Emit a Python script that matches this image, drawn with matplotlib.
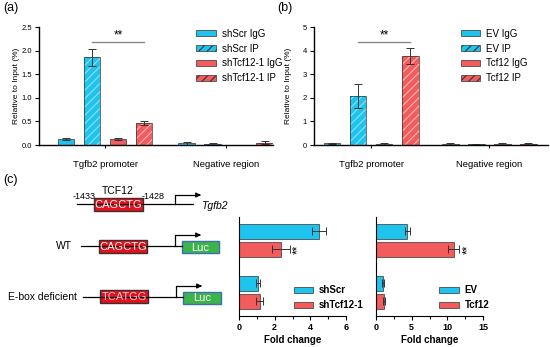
import matplotlib
matplotlib.use("Agg")
import matplotlib.pyplot as plt
from matplotlib.patches import Rectangle
from matplotlib.ticker import MultipleLocator

plt.rcParams["font.family"] = ["Liberation Sans", "DejaVu Sans"]
plt.rcParams["hatch.linewidth"] = 0.8

CYAN = "#1ec4ee"
RED = "#f25c5c"
EDGE = "#333333"
HATCH_COL = {CYAN: "#8fe0f5", RED: "#ffb4b4"}

# ---- data ----
chip_groups = ["Tgfb2 promoter", "Negative region"]

a_labels = ["shScr IgG", "shScr IP", "shTcf12-1 IgG", "shTcf12-1 IP"]
a_vals = [[0.12, 1.86, 0.12, 0.46], [0.04, 0.02, 0.0, 0.05]]
a_errs = [[0.02, 0.18, 0.02, 0.04], [0.03, 0.02, 0.0, 0.03]]

b_labels = ["EV IgG", "EV IP", "Tcf12 IgG", "Tcf12 IP"]
b_vals = [[0.08, 2.08, 0.05, 3.77], [0.04, 0.03, 0.05, 0.06]]
b_errs = [[0.02, 0.50, 0.05, 0.32], [0.03, 0.02, 0.05, 0.04]]

luc_groups = ["WT", "E-box deficient"]
c1_labels = ["shScr", "shTcf12-1"]
c1_vals = [[4.5, 2.35], [1.05, 1.15]]
c1_errs = [[0.4, 0.5], [0.1, 0.2]]

c2_labels = ["EV", "Tcf12"]
c2_vals = [[4.4, 10.9], [1.0, 1.1]]
c2_errs = [[0.4, 0.8], [0.1, 0.1]]

W, H = 550, 347
fig = plt.figure(figsize=(5.5, 3.47), dpi=100)


def px_axes(x0, y0, x1, y1):
    return fig.add_axes([x0 / W, 1 - y1 / H, (x1 - x0) / W, (y1 - y0) / H])


def chip_panel(ax, labels, vals, errs, gstep, xlim, ymax, ystep, fmt, sig_y, legx, labx):
    colors = [CYAN, CYAN, RED, RED]
    hatches = [None, "////", None, "////"]
    for g in range(len(vals)):
        for i in range(4):
            x = g * gstep + i
            if hatches[i]:
                # hatch layer in a lighter tint, then the outline on top
                ax.bar(x, vals[g][i], width=0.65, color=colors[i],
                       edgecolor=HATCH_COL[colors[i]], linewidth=0, hatch=hatches[i])
                ax.bar(x, vals[g][i], width=0.65, fill=False, edgecolor=EDGE,
                       linewidth=0.5)
            else:
                ax.bar(x, vals[g][i], width=0.65, color=colors[i], edgecolor=EDGE,
                       linewidth=0.5)
            ax.errorbar(x, vals[g][i], yerr=errs[g][i], color="#333333",
                        capsize=3, elinewidth=0.7, capthick=0.7)
    # legend proxies
    for i in range(4):
        ax.bar(0, 0, width=0, color=colors[i], edgecolor=EDGE, linewidth=0.5,
               hatch=hatches[i], label=labels[i])
    ax.set_xlim(*xlim)
    ax.set_ylim(0, ymax)
    ax.yaxis.set_major_locator(MultipleLocator(ystep))
    ax.yaxis.set_major_formatter(fmt)
    ax.set_xticks([1.5, gstep + 1.5])
    ax.set_xticklabels(chip_groups, fontsize=6.8)
    ax.tick_params(axis="y", labelsize=5.5, length=3, width=0.8, pad=2)
    ax.tick_params(axis="x", length=2.5, width=0.8, pad=8)
    for s in ["top", "right"]:
        ax.spines[s].set_visible(False)
    for s in ["left", "bottom"]:
        ax.spines[s].set_linewidth(1.0)
    ax.set_ylabel("Relative to Input (%)", fontsize=6)
    ax.yaxis.set_label_coords(labx, 0.5)
    ax.plot([1, 3], [sig_y, sig_y], color="#888888", lw=1)
    ax.text(2, sig_y * 1.005, "**", ha="center", va="bottom", fontsize=8.5)
    ax.legend(loc="upper left", bbox_to_anchor=(legx, 1.06), frameon=False,
              fontsize=7, handlelength=2.0, handleheight=0.55,
              labelspacing=0.5, handletextpad=0.6)


ax_a = px_axes(39, 27, 273, 145)
chip_panel(ax_a, a_labels, a_vals, a_errs, 4.65, (-1.04, 7.96), 2.5, 0.5,
           "{x:.1f}", 2.18, 0.635, -0.08)

ax_b = px_axes(314, 27, 548, 145)
chip_panel(ax_b, b_labels, b_vals, b_errs, 4.54, (-0.69, 8.3), 5, 1,
           "{x:.0f}", 4.35, 0.59, -0.095)


def luc_panel(ax, labels, vals, errs, xmax, minor, sig_dx, legx):
    colors = [CYAN, RED]
    gstep = 2.81
    for g in range(len(vals)):
        for i in range(2):
            y = 0.76 + g * gstep + i * 0.97
            ax.barh(y, vals[g][i], height=0.81, color=colors[i], edgecolor=EDGE,
                    linewidth=0.5, label=labels[i] if g == 0 else None)
            ax.errorbar(vals[g][i], y, xerr=errs[g][i], color="#333333",
                        capsize=3, elinewidth=0.7, capthick=0.7)
    ax.text(vals[0][1] + errs[0][1] + sig_dx, 0.76 + 0.97, "**", rotation=90,
            ha="left", va="center", fontsize=8.5)
    ax.set_ylim(5.35, 0)
    ax.set_xlim(0, xmax)
    ax.set_yticks([])
    ax.xaxis.set_minor_locator(MultipleLocator(minor))
    ax.tick_params(axis="x", labelsize=6.5, length=3, width=0.8, pad=2)
    ax.tick_params(axis="x", which="minor", length=2, width=0.8)
    for t in ax.get_xticklabels():
        t.set_fontweight("bold")
    for s in ["top", "right"]:
        ax.spines[s].set_visible(False)
    ax.set_xlabel("Fold change", fontsize=7, fontweight="bold", labelpad=2)
    ax.legend(loc="lower left", bbox_to_anchor=(legx, -0.03), frameon=False,
              prop={"size": 7, "weight": "bold"}, handlelength=2.0,
              handleheight=0.55, labelspacing=0.5, handletextpad=0.6)


ax_c1 = px_axes(239, 217, 346, 316)
luc_panel(ax_c1, c1_labels, c1_vals, c1_errs, 6, 1, 0.12, 0.43)

ax_c2 = px_axes(376, 217, 483, 316)
luc_panel(ax_c2, c2_labels, c2_vals, c2_errs, 15, 2.5, 0.45, 0.51)

# ---- overlay for panel letters and construct diagram ----
ov = fig.add_axes([0, 0, 1, 1], zorder=-1)
ov.set_xlim(0, W)
ov.set_ylim(H, 0)
ov.axis("off")

ov.text(3, 8, "(a)", fontsize=9, va="center")
ov.text(277, 8, "(b)", fontsize=9, va="center")
ov.text(3, 180, "(c)", fontsize=9, va="center")


def box(x0, x1, yc, h, fc, ec, text, tcolor="white", fs=8):
    ov.add_patch(Rectangle((x0, yc - h / 2), x1 - x0, h, facecolor=fc,
                           edgecolor=ec, linewidth=1))
    ov.text((x0 + x1) / 2, yc + 0.5, text, color=tcolor, fontsize=fs,
            ha="center", va="center")


def promoter_arrow(x, ybase, ytop, xend):
    ov.plot([x, x, xend - 3], [ybase, ytop, ytop], color="black", lw=0.9)
    ov.annotate("", xy=(xend + 1, ytop), xytext=(xend - 4, ytop),
                arrowprops=dict(arrowstyle="-|>", color="black", lw=0.9,
                                mutation_scale=7))


# genomic locus
ov.plot([77, 193], [204, 204], color="black", lw=0.9)
box(94, 143, 204.5, 13, "#e8101a", "#333333", "CAGCTG")
ov.text(118, 191, "TCF12", fontsize=7.5, ha="center", va="center")
ov.text(73, 196, "-1433", fontsize=6.5, ha="left", va="center")
ov.text(142, 196, "-1428", fontsize=6.5, ha="left", va="center")
promoter_arrow(175, 204, 195, 200)
ov.text(201, 205.5, "Tgfb2", fontsize=7.5, style="italic", ha="left", va="center")

# WT construct
ov.text(72, 246, "WT", fontsize=7.5, ha="right", va="center")
ov.plot([81, 182], [246, 246], color="black", lw=0.9)
box(99, 147, 246, 13, "#e8101a", "#333333", "CAGCTG")
promoter_arrow(175, 246, 235, 200)
box(182, 219, 247, 12, "#3cb44a", "#3a6fb0", "Luc")

# E-box deficient construct
ov.text(77, 297, "E-box deficient", fontsize=7.5, ha="right", va="center")
ov.plot([83, 183], [297, 297], color="black", lw=0.9)
box(100, 148, 296, 13, "#e8101a", "#333333", "TCATGG", tcolor="#f0c8e0")
promoter_arrow(176, 297, 286, 201)
box(183, 221, 297.5, 12, "#3cb44a", "#3a6fb0", "Luc")

fig.savefig("out.png", dpi=100)
